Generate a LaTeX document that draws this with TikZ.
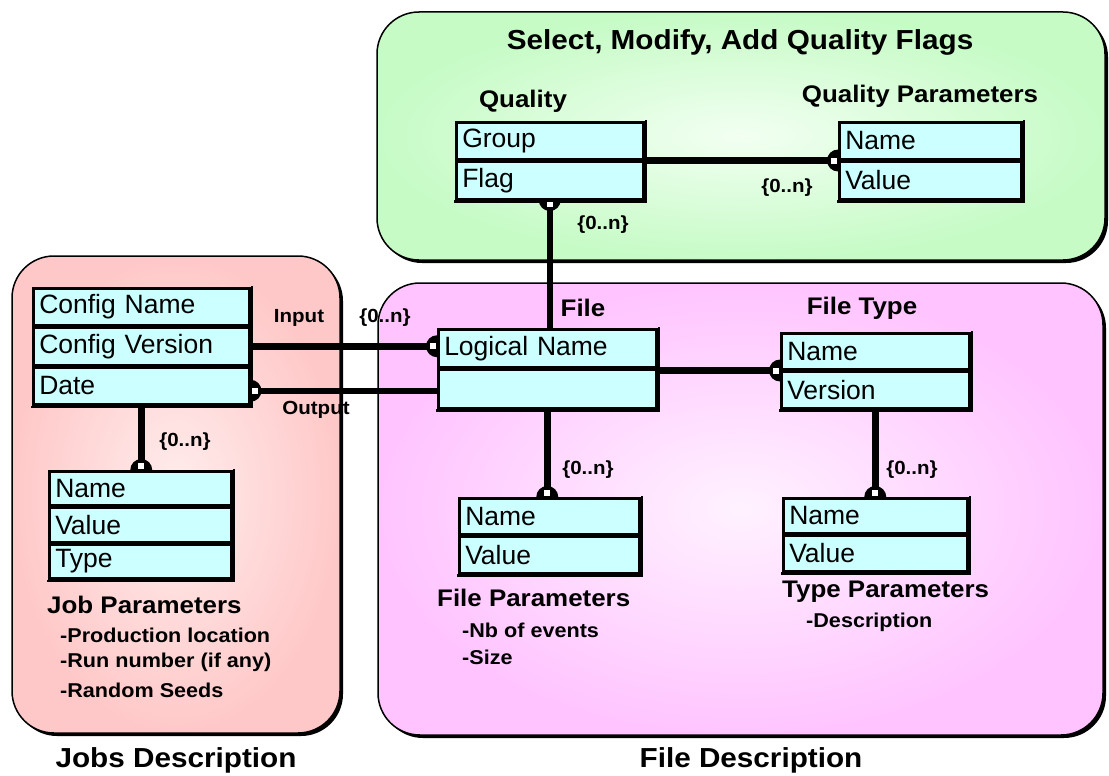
\documentclass[tikz,border=0pt]{standalone}
\usepackage{fontspec}
\setmainfont{Liberation Sans}
\newfontfamily\bfam{Liberation Sans}[FakeStretch=1.08]
\usetikzlibrary{decorations.markings}
\definecolor{entfill}{HTML}{CCFFFF}
\definecolor{greenin}{HTML}{F2FFF2}
\definecolor{greenout}{HTML}{C6FBC6}
\definecolor{redin}{HTML}{FFEDED}
\definecolor{redout}{HTML}{FFC8C8}
\definecolor{magin}{HTML}{FFF2FF}
\definecolor{magout}{HTML}{FFC4FF}
\newcommand\pinmark{\begin{scope}\clip (-13pt,-13pt) rectangle (0pt,13pt); \fill[black] (0pt,0pt) circle[radius=11pt]; \end{scope}\fill[white] (-1.5pt,-3pt) rectangle (-7pt,3pt);}
\newcommand\pinmarkrev{\begin{scope}\clip (13pt,-13pt) rectangle (0pt,13pt); \fill[black] (0pt,0pt) circle[radius=11pt]; \end{scope}\fill[white] (1.5pt,-3pt) rectangle (7pt,3pt);}
\newcommand\entshadow[2]{\draw[line width=2.5pt, line cap=rect] ([xshift=1.3pt]#1.north east) -- ([xshift=1.3pt,yshift=-1.3pt]#2.south east) -- ([yshift=-1.3pt]#2.south west);}
\begin{document}
\begin{tikzpicture}[x=1pt,y=-1pt,
  row/.style 2 args={draw=black, line width=2.5pt, fill=entfill, anchor=north west,
    inner xsep=6pt, inner ysep=0pt, text width=#1, minimum height=#2, align=left,
    font={\fontsize{26.5}{28}\selectfont}},
  lbl/.style={inner sep=0pt, font={\bfam\bfseries\fontsize{24}{26}\selectfont}},
  card/.style={inner sep=0pt, font={\bfam\bfseries\fontsize{19}{21}\selectfont}},
  item/.style={inner sep=0pt, anchor=west, font={\bfam\bfseries\fontsize{20}{22}\selectfont}},
  big/.style={inner sep=0pt, font={\bfam\bfseries\fontsize{27.5}{30}\selectfont}},
  conn/.style={line width=6.5pt},
  pin end/.style={postaction={decorate, decoration={markings, mark=at position 1 with {\pinmark}}}},
  pin start/.style={postaction={decorate, decoration={markings, mark=at position 0 with {\pinmarkrev}}}},
  panelline/.style={line width=1.5pt, rounded corners=42pt}
]
\useasboundingbox (0,0) rectangle (1109,776);
% panels
\fill[black, rounded corners=42pt] (380,15) rectangle (1108,263);
\shade[rounded corners=42pt, inner color=greenin, outer color=greenout] (377,12) rectangle (1105,260);
\draw[panelline] (377,12) rectangle (1105,260);
\fill[black, rounded corners=42pt] (15,259) rectangle (343,736);
\shade[rounded corners=42pt, inner color=redin, outer color=redout] (12,256) rectangle (340,733);
\draw[panelline] (12,256) rectangle (340,733);
\fill[black, rounded corners=42pt] (381,286) rectangle (1106,738);
\shade[rounded corners=42pt, inner color=magin, outer color=magout] (378,283) rectangle (1103,735);
\draw[panelline] (378,283) rectangle (1103,735);
% titles
\node[big] (ttop) at (740,42) {Select, Modify, Add Quality Flags};
\node[big] (tjobs) at (176,760) {Jobs Description};
\node[big] (tfile) at (751,760) {File Description};
% Quality
\node[lbl] (tq) at (523,101) {Quality};
\node[row={175pt}{37pt}] (qg) at (455,121) {Group};
\node[row={175pt}{37pt}] (qf) at (qg.south west) {Flag};
\entshadow{qg}{qf}
% Quality Parameters
\node[lbl] (tqp) at (920,96) {Quality Parameters};
\node[row={170pt}{37pt}] (qpn) at (838,121) {Name};
\node[row={170pt}{37pt}] (qpv) at (qpn.south west) {Value};
\entshadow{qpn}{qpv}
% Job
\node[row={204pt}{37pt}] (jn) at (32,287) {Config Name};
\node[row={204pt}{37pt}] (jv) at (jn.south west) {Config Version};
\node[row={204pt}{37pt}] (jd) at (jv.south west) {Date};
\entshadow{jn}{jd}
% Job parameters
\node[row={170pt}{34pt}] (jpn) at (48,470) {Name};
\node[row={170pt}{34pt}] (jpv) at (jpn.south west) {Value};
\node[row={170pt}{34pt}] (jpt) at (jpv.south west) {Type};
\entshadow{jpn}{jpt}
\node[lbl, anchor=west] (tjp) at (47,605) {Job Parameters};
\node[item] (ji1) at (60,635) {-Production location};
\node[item] (ji2) at (60,662) {-Run number (if any)};
\node[item] (ji3) at (60,690) {-Random Seeds};
% File
\node[lbl] (tf) at (583,308) {File};
\node[row={206pt}{38pt}] (fl) at (437,328) {Logical Name};
\node[row={206pt}{38pt}] (fe) at (fl.south west) {};
\entshadow{fl}{fe}
% File type
\node[lbl] (tft) at (862,308) {File Type};
\node[row={176pt}{36pt}] (ftn) at (780,332) {Name};
\node[row={176pt}{36pt}] (ftv) at (ftn.south west) {Version};
\entshadow{ftn}{ftv}
% File parameters
\node[row={168pt}{36pt}] (fpn) at (458,497) {Name};
\node[row={168pt}{36pt}] (fpv) at (fpn.south west) {Value};
\entshadow{fpn}{fpv}
\node[lbl, anchor=west] (tfp) at (437,598) {File Parameters};
\node[item] (fi1) at (462,630) {-Nb of events};
\node[item] (fi2) at (462,657) {-Size};
% Type parameters
\node[row={172pt}{35pt}] (tpn) at (782,497) {Name};
\node[row={172pt}{35pt}] (tpv) at (tpn.south west) {Value};
\entshadow{tpn}{tpv}
\node[lbl, anchor=west] (ttp) at (782,592) {Type Parameters};
\node[item] (ti1) at (806,622) {-Description};
% connectors
\draw[conn, pin end] (qg.south east) -- (qg.south east -| qpn.west);
\draw[conn, pin start] (qf.south) -- (qf.south |- fl.north);
\draw[conn, pin end] (jv.east) -- (jv.east -| fl.west);
\draw[conn, pin start] ([yshift=-5pt]jd.east) -- ([yshift=-5pt]jd.east -| fe.west);
\draw[conn, pin end] (jd.south) -- (jd.south |- jpn.north);
\draw[conn, pin end] (ftn.south west -| fl.east) -- (ftn.south west);
\draw[conn, pin end] (fe.south) -- (fe.south |- fpn.north);
\draw[conn, pin end] (ftv.south) -- (ftv.south |- tpn.north);
% cardinalities and roles
\node[card] (c1) at (787,188) {\{0..n\}};
\node[card] (c2) at (603,225) {\{0..n\}};
\node[card] (c3) at (385,318) {\{0..n\}};
\node[card] (c4) at (185,442) {\{0..n\}};
\node[card] (c5) at (588,470) {\{0..n\}};
\node[card] (c6) at (912,470) {\{0..n\}};
\node[card] (rin) at (299,318) {Input};
\node[card] (rout) at (316,410) {Output};
\end{tikzpicture}
\end{document}
